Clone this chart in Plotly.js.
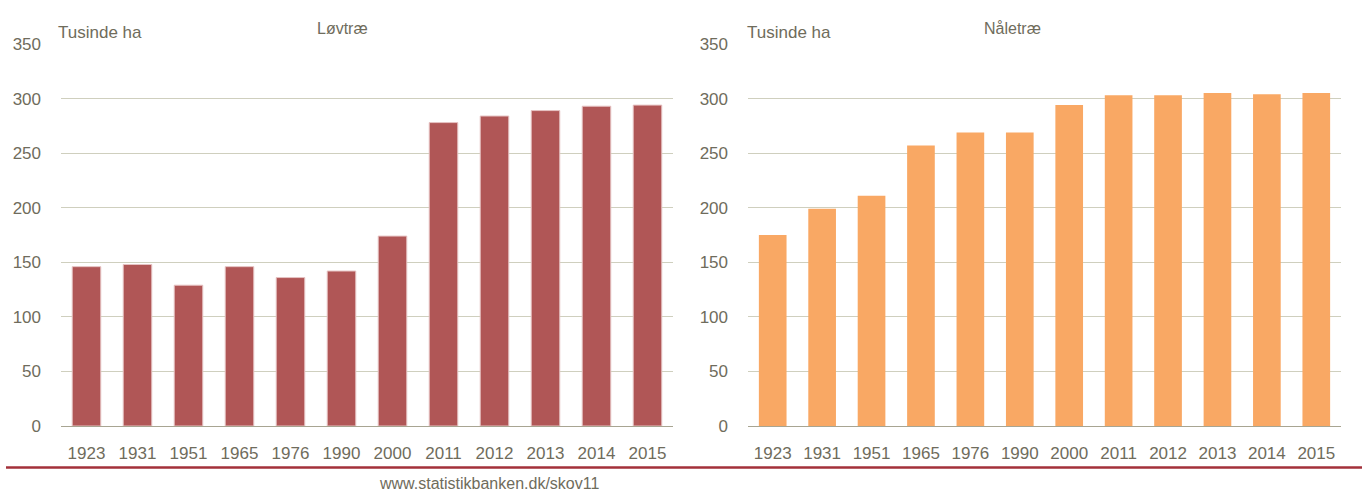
<!DOCTYPE html>
<html>
<head>
<meta charset="utf-8">
<script src="https://cdn.plot.ly/plotly-3.0.1.min.js"></script>
<style>html,body{margin:0;padding:0;background:#fff;}#chart{width:1362px;height:493px;}</style>
</head>
<body>
<div id="chart"></div>
<script>
const years = ['1923','1931','1951','1965','1976','1990','2000','2011','2012','2013','2014','2015'];
const lovtrae = [146, 148, 129, 146, 136, 142, 174, 278, 284, 289, 293, 294];
const naaletrae = [175, 199, 211, 257, 269, 269, 294, 303, 303, 305, 304, 305];
const yTicks = [0, 50, 100, 150, 200, 250, 300, 350];
const titleLeft = 'Løvtræ';
const titleRight = 'Nåletræ';
const unitLabel = 'Tusinde ha';
const source = 'www.statistikbanken.dk/skov11';

const FONT = '"Liberation Sans", Arial, sans-serif';
const TXT = '#6f6c5c';
const W = 1362, H = 493;
const px = v => v / W;
const py = v => (H - v) / H;

const traces = [
  {type: 'bar', x: years, y: lovtrae, xaxis: 'x', yaxis: 'y',
   marker: {color: '#b05656', line: {color: '#e6c3c3', width: 1}}, hoverinfo: 'x+y'},
  {type: 'bar', x: years, y: naaletrae, xaxis: 'x2', yaxis: 'y2',
   marker: {color: '#f9a864', line: {width: 0}}, hoverinfo: 'x+y'}
];

const yCommon = {
  range: [0, 350], tickvals: yTicks, ticktext: yTicks.map(String),
  showgrid: true, gridcolor: '#cfcfbe', gridwidth: 1, zeroline: false, showline: false,
  ticks: '', ticklabelstandoff: 19, tickfont: {family: FONT, size: 17, color: TXT}, fixedrange: true
};
const xCommon = {
  type: 'category', showline: true, linecolor: '#a8a592', linewidth: 1, showgrid: false,
  ticks: '', ticklabelstandoff: 12, tickfont: {family: FONT, size: 17, color: TXT}, fixedrange: true
};

const layout = {
  width: W, height: H,
  margin: {l: 0, r: 0, t: 0, b: 0},
  paper_bgcolor: '#ffffff', plot_bgcolor: '#ffffff',
  showlegend: false, bargap: 0.44,
  xaxis: Object.assign({}, xCommon, {domain: [px(61), px(673)], anchor: 'y'}),
  yaxis: Object.assign({}, yCommon, {domain: [py(426), py(44)], anchor: 'x'}),
  xaxis2: Object.assign({}, xCommon, {domain: [px(748), px(1341)], anchor: 'y2'}),
  yaxis2: Object.assign({}, yCommon, {domain: [py(426), py(44)], anchor: 'x2'}),
  shapes: [
    {type: 'line', xref: 'paper', yref: 'paper', x0: px(6), x1: 1, y0: py(467.5), y1: py(467.5),
     line: {color: '#a3303a', width: 2.5}}
  ],
  annotations: [
    {text: unitLabel, xref: 'paper', yref: 'paper', x: px(56), y: py(33), xanchor: 'left', yanchor: 'middle',
     showarrow: false, font: {family: FONT, size: 17, color: TXT}},
    {text: unitLabel, xref: 'paper', yref: 'paper', x: px(745), y: py(33), xanchor: 'left', yanchor: 'middle',
     showarrow: false, font: {family: FONT, size: 17, color: TXT}},
    {text: titleLeft, xref: 'paper', yref: 'paper', x: px(342), y: py(28), xanchor: 'center', yanchor: 'middle',
     showarrow: false, font: {family: FONT, size: 16, color: TXT}},
    {text: titleRight, xref: 'paper', yref: 'paper', x: px(1012), y: py(28), xanchor: 'center', yanchor: 'middle',
     showarrow: false, font: {family: FONT, size: 16, color: TXT}},
    {text: source, xref: 'paper', yref: 'paper', x: px(489), y: py(483), xanchor: 'center', yanchor: 'middle',
     showarrow: false, font: {family: FONT, size: 16, color: TXT}}
  ]
};

Plotly.newPlot('chart', traces, layout, {displayModeBar: false, staticPlot: true});
</script>
</body>
</html>
